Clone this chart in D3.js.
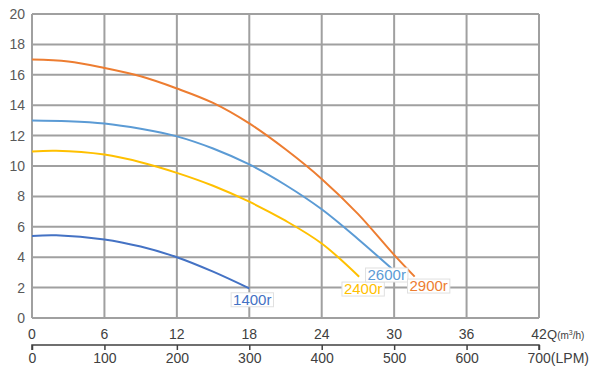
<!DOCTYPE html>
<html>
<head>
<meta charset="utf-8">
<script src="https://cdn.jsdelivr.net/npm/d3@7"></script>
<style>
  body { margin: 0; background: #fff; }
  text { font-family: "Liberation Sans", Arial, sans-serif; }
</style>
</head>
<body>
<div id="chart"></div>
<script>
// Débit Q (m3/h) et hauteur H (m)
const q1400 = [0, 2, 6, 9, 12, 15, 18];
const h1400 = [5.4, 5.44, 5.17, 4.7, 4.0, 3.05, 1.95];

const q2400 = [0, 2, 6, 9, 12, 15, 18, 21, 24, 27.1];
const h2400 = [10.95, 11.0, 10.75, 10.25, 9.55, 8.7, 7.65, 6.4, 4.9, 2.72];

const q2600 = [0, 3, 6, 9, 12, 15, 18, 21, 24, 27, 29.8];
const h2600 = [13.0, 12.95, 12.8, 12.45, 11.95, 11.15, 10.1, 8.75, 7.15, 5.2, 3.25];

const q2900 = [0, 3, 6, 9, 12, 15, 18, 21, 24, 27, 30, 31.7];
const h2900 = [17.0, 16.88, 16.45, 15.9, 15.1, 14.15, 12.8, 11.1, 9.15, 6.85, 4.15, 2.72];

const seriesNames = ["1400r", "2400r", "2600r", "2900r"];
const seriesColors = ["#4472c4", "#ffc000", "#5b9bd5", "#ed7d31"];

const yTicks = [0, 2, 4, 6, 8, 10, 12, 14, 16, 18, 20];
const qTicks = [0, 6, 12, 18, 24, 30, 36, 42];
const lpmTicks = [0, 100, 200, 300, 400, 500, 600, 700];

const width = 600;
const height = 378;

const x = d3.scaleLinear().domain([0, 42]).range([32, 539]);
const xLpm = d3.scaleLinear().domain([0, 700]).range([32, 539]);
const y = d3.scaleLinear().domain([0, 20]).range([318, 14]);

const svg = d3
  .select("#chart")
  .append("svg")
  .attr("width", width)
  .attr("height", height);

// Grille
const grid = svg.append("g").style("stroke", "#a0a0a0").style("stroke-width", 2);

grid
  .selectAll(".hline")
  .data(yTicks)
  .join("line")
  .attr("x1", x(0))
  .attr("x2", x(42))
  .attr("y1", (d) => y(d))
  .attr("y2", (d) => y(d));

grid
  .selectAll(".vline")
  .data(qTicks)
  .join("line")
  .attr("x1", (d) => x(d))
  .attr("x2", (d) => x(d))
  .attr("y1", y(0))
  .attr("y2", y(20));

// Étiquettes de l'axe Y
svg
  .append("g")
  .selectAll("text")
  .data(yTicks)
  .join("text")
  .attr("x", 25)
  .attr("y", (d) => y(d))
  .attr("dy", "0.36em")
  .style("text-anchor", "end")
  .style("font-size", "14px")
  .style("fill", "#595959")
  .text((d) => d);

// Étiquettes Q (m3/h)
svg
  .append("g")
  .selectAll("text")
  .data(qTicks)
  .join("text")
  .attr("x", (d) => x(d))
  .attr("y", 339)
  .style("text-anchor", "middle")
  .style("font-size", "14px")
  .style("fill", "#404040")
  .text((d) => d);

let qUnit = svg
  .append("text")
  .attr("x", 547)
  .attr("y", 339)
  .style("fill", "#404040");
qUnit.append("tspan").style("font-size", "13px").text("Q");
qUnit.append("tspan").style("font-size", "10px").text("(m");
qUnit.append("tspan").style("font-size", "7px").attr("dy", -4).text("3");
qUnit.append("tspan").style("font-size", "10px").attr("dy", 4).text("/h)");

// Axe LPM en bas
const lpmAxis = d3
  .axisBottom(xLpm)
  .tickValues(lpmTicks)
  .tickSize(5)
  .tickFormat((d) => (d === 700 ? "700(LPM)" : d));

let lpmG = svg.append("g").attr("transform", "translate(0,345)").call(lpmAxis);
lpmG.select(".domain").attr("d", "M32,5V0H539V5").style("stroke", "#404040").style("stroke-width", 1.5);
lpmG.selectAll(".tick line").style("stroke", "#404040").style("stroke-width", 1.5);
lpmG
  .selectAll(".tick text")
  .style("font-size", "14px")
  .style("fill", "#404040")
  .style("font-family", "Liberation Sans, Arial, sans-serif")
  .attr("y", 8)
  .attr("dy", "0.71em");
// "700" centré sur la graduation, "(LPM)" à droite
lpmG
  .selectAll(".tick text")
  .filter((d) => d === 700)
  .style("text-anchor", "start")
  .attr("x", -12);

// Courbes
const line = d3
  .line()
  .x((d) => x(d[0]))
  .y((d) => y(d[1]))
  .curve(d3.curveCatmullRom.alpha(0.5));

const allQ = [q1400, q2400, q2600, q2900];
const allH = [h1400, h2400, h2600, h2900];
// décalage de chaque étiquette par rapport à la fin de la courbe
const labelOffsets = [
  [3, 11],
  [4, 12],
  [-5, 6],
  [14, 9],
];

seriesNames.forEach((name, i) => {
  let pts = allQ[i].map((q, j) => [q, allH[i][j]]);
  svg
    .append("path")
    .datum(pts)
    .attr("d", line)
    .style("fill", "none")
    .style("stroke", seriesColors[i])
    .style("stroke-width", 2);
});

seriesNames.forEach((name, i) => {
  let last = allQ[i].length - 1;
  let cx = x(allQ[i][last]) + labelOffsets[i][0];
  let cy = y(allH[i][last]) + labelOffsets[i][1];
  let g = svg.append("g");
  let t = g
    .append("text")
    .attr("x", cx)
    .attr("y", cy)
    .attr("dy", "0.36em")
    .style("text-anchor", "middle")
    .style("font-size", "15px")
    .style("fill", seriesColors[i])
    .text(name);
  let bb = t.node().getBBox();
  g.insert("rect", "text")
    .attr("x", bb.x - 2)
    .attr("y", bb.y + 2)
    .attr("width", bb.width + 4)
    .attr("height", bb.height - 3)
    .style("fill", "#fff")
    .style("stroke", "#e0e0e0")
    .style("stroke-width", 1);
});
</script>
</body>
</html>
